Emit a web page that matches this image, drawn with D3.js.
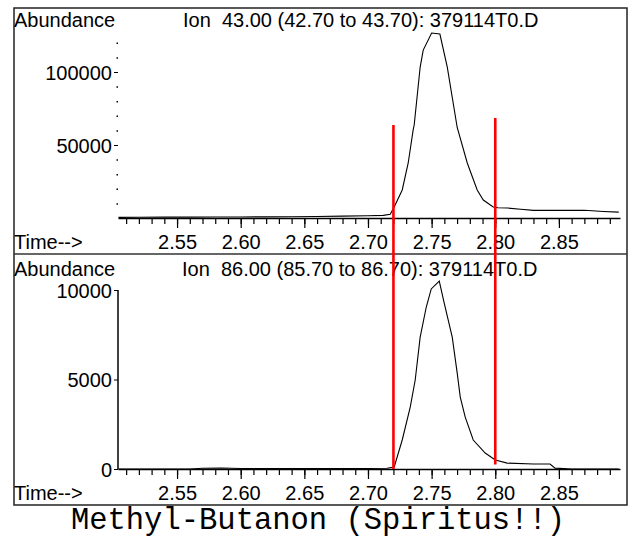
<!DOCTYPE html>
<html>
<head>
<meta charset="utf-8">
<script src="https://cdn.jsdelivr.net/npm/d3@7"></script>
<style>
  body { margin: 0; background: #fff; }
  text { font-family: "Liberation Sans", Arial, sans-serif; fill: #000; }
</style>
</head>
<body>
<div id="wrapper"></div>
<script>
// ion 43 trace
const topTime = [2.504, 2.52, 2.54, 2.56, 2.58, 2.60, 2.62, 2.64, 2.66, 2.68, 2.70, 2.712, 2.7175, 2.7206, 2.7269, 2.7316, 2.7355, 2.7363, 2.741, 2.7434, 2.750, 2.7565, 2.7623, 2.7701, 2.778, 2.7858, 2.7906, 2.7984, 2.802, 2.81, 2.82, 2.83, 2.85, 2.87, 2.885, 2.897]
const topAbund = [400, 500, 600, 600, 700, 700, 800, 900, 1000, 1300, 1500, 1800, 2500, 7500, 19200, 37700, 60300, 63700, 103400, 115000, 126700, 126000, 103400, 62000, 37700, 19200, 12300, 7500, 7000, 6800, 6000, 5200, 5200, 5300, 4500, 4000]
// ion 86 trace
const bottomTime = [2.504, 2.56, 2.57, 2.585, 2.60, 2.65, 2.70, 2.715, 2.7206, 2.7269, 2.7332, 2.7371, 2.741, 2.7458, 2.7497, 2.756, 2.7599, 2.7662, 2.7701, 2.7725, 2.7764, 2.7827, 2.7921, 2.80, 2.8094, 2.83, 2.843, 2.847, 2.86, 2.897]
const bottomAbund = [0, 0, 40, 60, 30, 20, 30, 40, 110, 1620, 3460, 4970, 7370, 9050, 10060, 10500, 9270, 7370, 5360, 4020, 2900, 1620, 890, 500, 330, 280, 280, 50, 0, 0]
// integration markers
const markerTime = [2.72, 2.80]
const markerTopAbund = [63700, 68500]
const markerBottomAbund = [0, 250]

const xTickLabels = ["2.55", "2.60", "2.65", "2.70", "2.75", "2.80", "2.85"]
const xMinorTicks = d3.range(251, 290).map(d => d / 100)
const topYTicks = [50000, 100000]
const topYMinor = [10000, 20000, 30000, 40000, 60000, 70000, 80000, 90000, 110000, 120000]
const bottomYTicks = [0, 5000, 10000]
const topTitle = "Ion  43.00 (42.70 to 43.70): 379114T0.D"
const bottomTitle = "Ion  86.00 (85.70 to 86.70): 379114T0.D"
const caption = "Methyl-Butanon (Spiritus!!)"

let dimensions = {
    width: 635,
    height: 539,
    frame: { left: 14, top: 8, right: 627, bottom: 505, divider: 254 },
    plotLeft: 118,
    plotRight: 620,
}

const svg = d3.select("#wrapper")
    .append("svg")
        .attr("width", dimensions.width)
        .attr("height", dimensions.height)

const f = dimensions.frame
svg.append("rect")
    .attr("x", f.left).attr("y", f.top)
    .attr("width", f.right - f.left).attr("height", f.bottom - f.top)
    .attr("fill", "none").attr("stroke", "#222").attr("stroke-width", 1.5)
svg.append("line")
    .attr("x1", f.left).attr("x2", f.right)
    .attr("y1", f.divider).attr("y2", f.divider)
    .attr("stroke", "#333").attr("stroke-width", 1.5)

const xScale = d3.scaleLinear()
    .domain([2.5036, 2.898])
    .range([dimensions.plotLeft, dimensions.plotRight])

const yTop = d3.scaleLinear().domain([0, 50000]).range([218, 145])
const yBottom = d3.scaleLinear().domain([0, 5000]).range([469, 379.5])

function drawPanel(yScale, times, abund, opts) {
    const g = svg.append("g")
    // minor x ticks
    const minor = g.append("g")
        .attr("transform", `translate(0,${yScale(0)})`)
        .call(d3.axisBottom(xScale).tickValues(xMinorTicks).tickSize(6).tickFormat("").tickSizeOuter(0))
    minor.select(".domain").remove()
    minor.selectAll("line").attr("stroke-width", 1.2)
    // major x ticks + line
    const xAxis = g.append("g")
        .attr("transform", `translate(0,${yScale(0)})`)
        .call(d3.axisBottom(xScale).tickValues(xTickLabels.map(Number)).tickFormat(d3.format(".2f")).tickSize(10).tickSizeOuter(0))
    xAxis.select(".domain").attr("stroke-width", 1.5)
    xAxis.selectAll("line").attr("stroke-width", 1.2)
    xAxis.selectAll("text")
        .attr("font-size", 20)
        .attr("y", 0).attr("dy", 0)
        .attr("transform", `translate(0,${opts.labelBase - yScale(0)})`)

    // y ticks
    const yAxis = g.append("g")
        .attr("transform", `translate(${dimensions.plotLeft},0)`)
        .call(d3.axisLeft(yScale).tickValues(opts.yTicks).tickSize(4).tickSizeOuter(0).tickFormat(d3.format("d")))
    yAxis.select(".domain").remove()
    yAxis.selectAll("text").attr("font-size", 20).attr("x", -6).attr("dy", "0.36em")
    if (opts.yMinor) {
        const ym = g.append("g")
            .attr("transform", `translate(${dimensions.plotLeft},0)`)
            .call(d3.axisLeft(yScale).tickValues(opts.yMinor).tickSize(1.5).tickFormat(""))
        ym.select(".domain").remove()
        ym.selectAll("line").attr("stroke-width", 1.5)
    }
    if (opts.yLine) {
        g.append("line")
            .attr("x1", dimensions.plotLeft).attr("x2", dimensions.plotLeft)
            .attr("y1", yScale(0)).attr("y2", yScale(10000))
            .attr("stroke", "#000").attr("stroke-width", 1.5)
    }

    // trace
    const lineGenerator = d3.line()
        .x((d, i) => xScale(times[i]))
        .y(d => yScale(d))
    g.append("path")
        .attr("d", lineGenerator(abund))
        .attr("fill", "none")
        .attr("stroke", "#000")
        .attr("stroke-width", 1.1)

    g.append("text").attr("x", f.left).attr("y", opts.abBase).attr("font-size", 20).text("Abundance")
    g.append("text").attr("x", opts.titleX).attr("y", opts.abBase).attr("font-size", 20)
        .style("white-space", "pre").text(opts.title)
    g.append("text").attr("x", f.left).attr("y", opts.labelBase).attr("font-size", 20).text("Time-->")
}

drawPanel(yTop, topTime, topAbund, {
    yTicks: topYTicks, yMinor: topYMinor, yLine: false,
    labelBase: 249, abBase: 27, title: topTitle, titleX: 183
})
drawPanel(yBottom, bottomTime, bottomAbund, {
    yTicks: bottomYTicks, yMinor: null, yLine: true,
    labelBase: 500, abBase: 276, title: bottomTitle, titleX: 182
})

// red integration markers spanning both panels
svg.append("g").selectAll("line")
    .data(markerTime)
    .join("line")
        .attr("x1", d => xScale(d)).attr("x2", d => xScale(d))
        .attr("y1", (d, i) => yTop(markerTopAbund[i]))
        .attr("y2", (d, i) => yBottom(markerBottomAbund[i]))
        .attr("stroke", "#ff0000")
        .attr("stroke-width", 2.6)

svg.append("text")
    .attr("x", 318).attr("y", 529)
    .attr("text-anchor", "middle")
    .style("font-family", "'Courier New', 'Liberation Mono', monospace")
    .attr("font-size", 30.5)
    .text(caption)
</script>
</body>
</html>
